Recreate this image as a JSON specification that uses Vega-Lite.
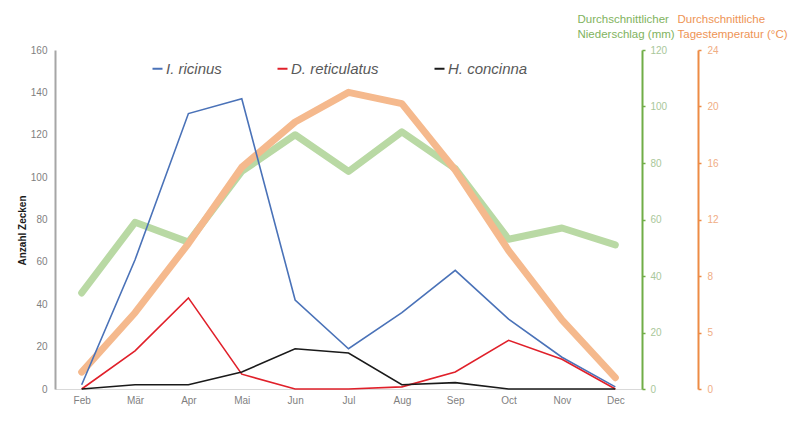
{
  "$schema": "https://vega.github.io/schema/vega-lite/v6.json",
  "width": 587,
  "height": 339,
  "autosize": {"type": "none"},
  "padding": {"left": 55, "top": 50, "right": 158, "bottom": 44},
  "background": "white",
  "config": {"font": "Liberation Sans", "view": {"stroke": null}},
  "datasets": {
    "wetter": [
      {"Monat": "Feb", "Niederschlag": 34, "Temperatur": 1.2},
      {"Monat": "Mär", "Niederschlag": 59, "Temperatur": 5.4},
      {"Monat": "Apr", "Niederschlag": 52, "Temperatur": 10.3},
      {"Monat": "Mai", "Niederschlag": 77, "Temperatur": 15.7},
      {"Monat": "Jun", "Niederschlag": 90, "Temperatur": 18.9},
      {"Monat": "Jul", "Niederschlag": 77, "Temperatur": 21.0},
      {"Monat": "Aug", "Niederschlag": 91, "Temperatur": 20.2},
      {"Monat": "Sep", "Niederschlag": 78, "Temperatur": 15.5},
      {"Monat": "Oct", "Niederschlag": 53, "Temperatur": 9.8},
      {"Monat": "Nov", "Niederschlag": 57, "Temperatur": 4.9},
      {"Monat": "Dec", "Niederschlag": 51, "Temperatur": 0.8}
    ],
    "zecken": [
      {"Monat": "Feb", "Art": "I. ricinus", "Anzahl": 2},
      {"Monat": "Mär", "Art": "I. ricinus", "Anzahl": 61},
      {"Monat": "Apr", "Art": "I. ricinus", "Anzahl": 130},
      {"Monat": "Mai", "Art": "I. ricinus", "Anzahl": 137},
      {"Monat": "Jun", "Art": "I. ricinus", "Anzahl": 42},
      {"Monat": "Jul", "Art": "I. ricinus", "Anzahl": 19},
      {"Monat": "Aug", "Art": "I. ricinus", "Anzahl": 36},
      {"Monat": "Sep", "Art": "I. ricinus", "Anzahl": 56},
      {"Monat": "Oct", "Art": "I. ricinus", "Anzahl": 33},
      {"Monat": "Nov", "Art": "I. ricinus", "Anzahl": 15},
      {"Monat": "Dec", "Art": "I. ricinus", "Anzahl": 1},
      {"Monat": "Feb", "Art": "D. reticulatus", "Anzahl": 0},
      {"Monat": "Mär", "Art": "D. reticulatus", "Anzahl": 18},
      {"Monat": "Apr", "Art": "D. reticulatus", "Anzahl": 43},
      {"Monat": "Mai", "Art": "D. reticulatus", "Anzahl": 7},
      {"Monat": "Jun", "Art": "D. reticulatus", "Anzahl": 0},
      {"Monat": "Jul", "Art": "D. reticulatus", "Anzahl": 0},
      {"Monat": "Aug", "Art": "D. reticulatus", "Anzahl": 1},
      {"Monat": "Sep", "Art": "D. reticulatus", "Anzahl": 8},
      {"Monat": "Oct", "Art": "D. reticulatus", "Anzahl": 23},
      {"Monat": "Nov", "Art": "D. reticulatus", "Anzahl": 14},
      {"Monat": "Dec", "Art": "D. reticulatus", "Anzahl": 0},
      {"Monat": "Feb", "Art": "H. concinna", "Anzahl": 0},
      {"Monat": "Mär", "Art": "H. concinna", "Anzahl": 2},
      {"Monat": "Apr", "Art": "H. concinna", "Anzahl": 2},
      {"Monat": "Mai", "Art": "H. concinna", "Anzahl": 8},
      {"Monat": "Jun", "Art": "H. concinna", "Anzahl": 19},
      {"Monat": "Jul", "Art": "H. concinna", "Anzahl": 17},
      {"Monat": "Aug", "Art": "H. concinna", "Anzahl": 2},
      {"Monat": "Sep", "Art": "H. concinna", "Anzahl": 3},
      {"Monat": "Oct", "Art": "H. concinna", "Anzahl": 0},
      {"Monat": "Nov", "Art": "H. concinna", "Anzahl": 0},
      {"Monat": "Dec", "Art": "H. concinna", "Anzahl": 0}
    ]
  },
  "encoding": {
    "x": {
      "field": "Monat",
      "type": "ordinal",
      "sort": ["Feb", "Mär", "Apr", "Mai", "Jun", "Jul", "Aug", "Sep", "Oct", "Nov", "Dec"],
      "scale": {"type": "point", "padding": 0.5},
      "axis": {
        "title": null,
        "labelAngle": 0,
        "labelFontSize": 10,
        "labelColor": "#7f7f7f",
        "labelPadding": 6,
        "ticks": false,
        "domainColor": "#d9d9d9",
        "domainWidth": 1,
        "grid": false
      }
    }
  },
  "layer": [
    {
      "data": {"name": "wetter"},
      "mark": {"type": "line", "color": "#b9d9a4", "strokeWidth": 7, "strokeCap": "round", "strokeJoin": "round"},
      "encoding": {
        "y": {
          "field": "Niederschlag",
          "type": "quantitative",
          "scale": {"domain": [0, 120], "nice": false},
          "axis": {
            "orient": "right",
            "values": [0, 20, 40, 60, 80, 100, 120],
            "grid": false,
            "domainColor": "#70ad47",
            "domainWidth": 2,
            "tickColor": "#70ad47",
            "tickSize": 3,
            "tickWidth": 1.5,
            "labelColor": "#a9c79a",
            "labelFontSize": 10,
            "labelPadding": 5,
            "title": ["Durchschnittlicher", "Niederschlag (mm)"],
            "titleColor": "#7fb35e",
            "titleFontSize": 11.5,
            "titleFontWeight": "normal",
            "titleAngle": 0,
            "titleAlign": "left",
            "titleBaseline": "top",
            "titleLineHeight": 15,
            "titleX": -65,
            "titleY": -37
          }
        }
      }
    },
    {
      "data": {"name": "wetter"},
      "mark": {"type": "line", "color": "#f5b98d", "strokeWidth": 7, "strokeCap": "round", "strokeJoin": "round"},
      "encoding": {
        "y": {
          "field": "Temperatur",
          "type": "quantitative",
          "scale": {"domain": [0, 24], "nice": false},
          "axis": {
            "orient": "right",
            "offset": 56,
            "values": [0, 4, 8, 12, 16, 20, 24],
            "labelExpr": "datum.value == 4 ? '5' : datum.label",
            "grid": false,
            "domainColor": "#ed8b45",
            "domainWidth": 2,
            "tickColor": "#ed8b45",
            "tickSize": 3,
            "tickWidth": 1.5,
            "labelColor": "#f0ad84",
            "labelFontSize": 10,
            "labelPadding": 6,
            "title": ["Durchschnittliche", "Tagestemperatur (°C)"],
            "titleColor": "#ee9455",
            "titleFontSize": 11.5,
            "titleFontWeight": "normal",
            "titleAngle": 0,
            "titleAlign": "left",
            "titleBaseline": "top",
            "titleLineHeight": 15,
            "titleX": -21,
            "titleY": -37
          }
        }
      }
    },
    {
      "data": {"name": "zecken"},
      "mark": {"type": "line", "strokeWidth": 1.6},
      "encoding": {
        "y": {
          "field": "Anzahl",
          "type": "quantitative",
          "scale": {"domain": [0, 160], "nice": false},
          "axis": {
            "orient": "left",
            "values": [0, 20, 40, 60, 80, 100, 120, 140, 160],
            "grid": false,
            "ticks": false,
            "domainColor": "#a6a6a6",
            "domainWidth": 2,
            "labelColor": "#7f7f7f",
            "labelFontSize": 10,
            "labelPadding": 8,
            "title": "Anzahl Zecken",
            "titleFontSize": 10,
            "titleFontWeight": "bold",
            "titleColor": "#1a1a1a",
            "titleAngle": 270,
            "titleAlign": "center",
            "titleBaseline": "middle",
            "titleX": -33,
            "titleY": 180
          }
        },
        "color": {
          "field": "Art",
          "type": "nominal",
          "scale": {
            "domain": ["I. ricinus", "D. reticulatus", "H. concinna"],
            "range": ["#4a72b8", "#e0202a", "#1a1a1a"]
          },
          "legend": {
            "orient": "none",
            "legendX": 95,
            "legendY": 11,
            "direction": "horizontal",
            "title": null,
            "symbolType": "stroke",
            "symbolSize": 100,
            "symbolStrokeWidth": 2,
            "labelFontSize": 15,
            "labelFontStyle": "italic",
            "labelColor": "#595959",
            "labelOffset": 1,
            "columnPadding": 51
          }
        }
      }
    }
  ],
  "resolve": {"scale": {"y": "independent", "color": "independent"}}
}
